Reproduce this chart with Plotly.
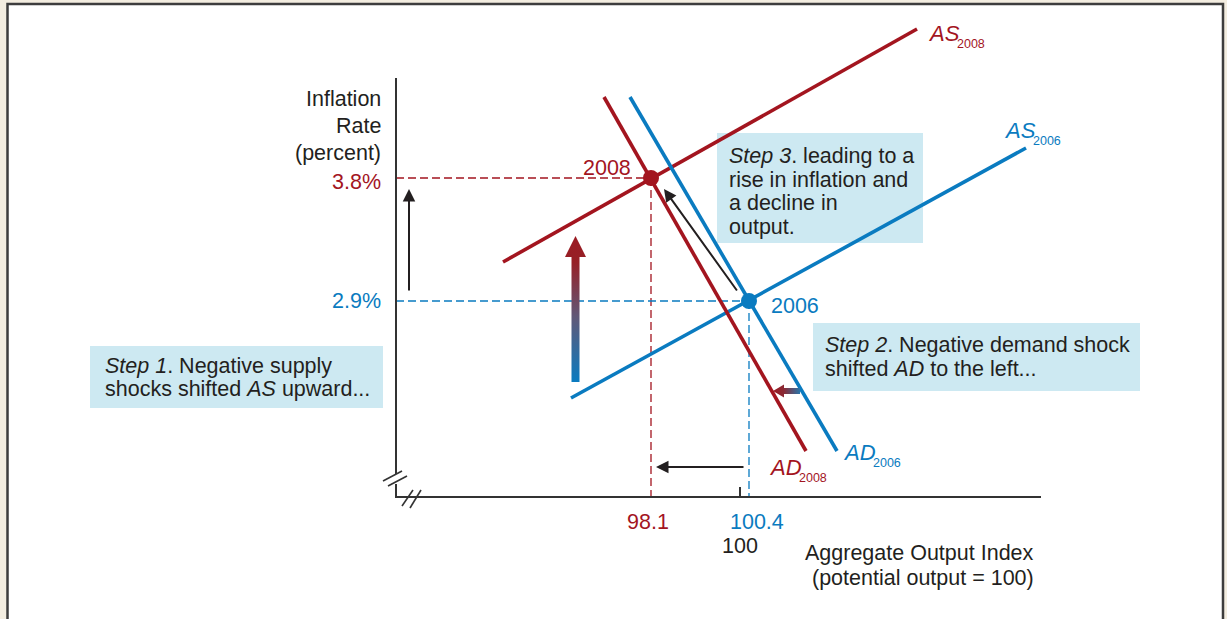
import plotly.graph_objects as go

# ---------------- data (diagram coordinates, y grows downward) ----------------
RED = "#a3151f"
BLUE = "#0a7bc0"
INK = "#231f20"
BOXC = "#cde9f2"
FONT = "Liberation Sans, Arial, sans-serif"

# curves: endpoints
as2008_x = [503, 917]
as2008_y = [262, 29]
as2006_x = [571, 1026]
as2006_y = [398, 148]
ad2008_x = [604, 806]
ad2008_y = [97, 451]
ad2006_x = [630, 837]
ad2006_y = [97, 451]

# equilibria
eq_names = ["2008", "2006"]
eq_x = [651, 749]
eq_y = [178, 301]
eq_inflation = ["3.8%", "2.9%"]
eq_output = ["98.1", "100.4"]
eq_colors = [RED, BLUE]

# axes
axis_x0 = 396
axis_y0 = 497
axis_top = 78
axis_right = 1041
potential_x = 740

fig = go.Figure()

# ---------------- frame ----------------
shapes = []
shapes.append(dict(type="rect", xref="x", yref="y", x0=7.5, x1=1223, y0=4, y1=650,
                   fillcolor="white", line=dict(color="#3d3d3d", width=2.5), layer="below"))

# text boxes
boxes = [(717, 923, 133, 243), (813, 1140, 323, 391), (90, 383, 346, 408)]
for bx0, bx1, by0, by1 in boxes:
    shapes.append(dict(type="rect", xref="x", yref="y", x0=bx0, x1=bx1, y0=by0, y1=by1,
                       fillcolor=BOXC, line=dict(width=0), layer="below"))

# axes lines
axc = dict(color="#333333", width=2)
shapes += [
    dict(type="line", xref="x", yref="y", x0=axis_x0, x1=axis_x0, y0=axis_top, y1=474, line=axc),
    dict(type="line", xref="x", yref="y", x0=axis_x0, x1=axis_x0, y0=484, y1=axis_y0, line=axc),
    dict(type="line", xref="x", yref="y", x0=axis_x0 - 1, x1=axis_right, y0=axis_y0, y1=axis_y0, line=axc),
    # break marks vertical axis
    dict(type="line", xref="x", yref="y", x0=383, x1=402, y0=481, y1=471, line=dict(color="#333", width=1.6)),
    dict(type="line", xref="x", yref="y", x0=388, x1=407, y0=486, y1=476, line=dict(color="#333", width=1.6)),
    # break marks horizontal axis
    dict(type="line", xref="x", yref="y", x0=402, x1=413, y0=506, y1=490, line=dict(color="#333", width=1.6)),
    dict(type="line", xref="x", yref="y", x0=410, x1=421, y0=508, y1=490, line=dict(color="#333", width=1.6)),
    # tick at potential output
    dict(type="line", xref="x", yref="y", x0=potential_x, x1=potential_x, y0=487, y1=axis_y0, line=axc),
]

# ---------------- dashed guides ----------------
for ex, ey, c in zip(eq_x, eq_y, eq_colors):
    fig.add_trace(go.Scatter(x=[axis_x0, ex], y=[ey, ey], mode="lines",
                             line=dict(color=c, width=1.3, dash="8px,4px"), hoverinfo="skip"))
    fig.add_trace(go.Scatter(x=[ex, ex], y=[ey, axis_y0], mode="lines",
                             line=dict(color=c, width=1.3, dash="8px,4px"), hoverinfo="skip"))

# ---------------- curves ----------------
for xs, ys, c in [(as2008_x, as2008_y, RED), (as2006_x, as2006_y, BLUE),
                  (ad2006_x, ad2006_y, BLUE), (ad2008_x, ad2008_y, RED)]:
    fig.add_trace(go.Scatter(x=xs, y=ys, mode="lines", line=dict(color=c, width=3.6),
                             hoverinfo="skip"))

# equilibrium dots
fig.add_trace(go.Scatter(x=eq_x, y=eq_y, mode="markers",
                         marker=dict(color=eq_colors, size=16, line=dict(width=0)),
                         hoverinfo="skip"))

# ---------------- gradient arrows ----------------
big_x = [575.5, 586, 579.5, 579.5, 571.5, 571.5, 565, 575.5]
big_y = [236, 257, 257, 382, 382, 257, 257, 236]
fig.add_trace(go.Scatter(x=big_x, y=big_y, mode="lines", fill="toself",
                         line=dict(width=0, color="rgba(0,0,0,0)"),
                         fillgradient=dict(type="vertical", start=236, stop=382,
                                           colorscale=[[0, "#9b1a22"], [0.18, "#962026"],
                                                       [0.55, "#615877"], [1, "#0a7bc0"]]),
                         hoverinfo="skip"))
small_x = [773, 784, 784, 800, 800, 784, 784, 773]
small_y = [391, 384.5, 388, 388, 394, 394, 397.5, 391]
fig.add_trace(go.Scatter(x=small_x, y=small_y, mode="lines", fill="toself",
                         line=dict(width=0, color="rgba(0,0,0,0)"),
                         fillgradient=dict(type="horizontal", start=773, stop=800,
                                           colorscale=[[0, "#9b1a22"], [0.4, "#8a2a35"],
                                                       [1, "#2a74a8"]]),
                         hoverinfo="skip"))

# ---------------- annotations ----------------
ann = []
FS = 21.5


def txt(x, y, t, anchor="left", color=INK, size=FS):
    ann.append(dict(x=x, y=y, xref="x", yref="y", text=t, showarrow=False,
                    xanchor=anchor, yanchor="middle",
                    font=dict(family=FONT, size=size, color=color)))


# y-axis title
txt(383, 99, "Inflation", "right")
txt(383, 126, "Rate", "right")
txt(383, 153, "(percent)", "right")
# inflation ticks
txt(383, 182, eq_inflation[0], "right", RED)
txt(383, 301, eq_inflation[1], "right", BLUE)
# output ticks
txt(648, 522, eq_output[0], "center", RED)
txt(757, 522, eq_output[1], "center", BLUE)
txt(740, 546, "100", "center")
txt(1036, 553, "Aggregate Output Index", "right")
txt(1036, 578, "(potential output = 100)", "right")
# point labels
txt(633, 168, eq_names[0], "right", RED)
txt(769, 306, eq_names[1], "left", BLUE)
# curve labels
txt(926, 33, "<i>AS</i>", "left", RED, 22)
txt(955, 44, "2008", "left", RED, 12.5)
txt(1002, 130, "<i>AS</i>", "left", BLUE, 22)
txt(1031, 141, "2006", "left", BLUE, 12.5)
txt(841, 452, "<i>AD</i>", "left", BLUE, 22)
txt(871, 463, "2006", "left", BLUE, 12.5)
txt(767, 467, "<i>AD</i>", "left", RED, 22)
txt(797, 478, "2008", "left", RED, 12.5)
# step boxes
for i, line in enumerate(["<i>Step 3</i>. leading to a", "rise in inflation and",
                          "a decline in", "output."]):
    txt(727, 156 + i * 23.7, line)
for i, line in enumerate(["<i>Step 2</i>. Negative demand shock",
                          "shifted <i>AD</i> to the left..."]):
    txt(823, 345 + i * 24, line)
for i, line in enumerate(["<i>Step 1</i>. Negative supply",
                          "shocks shifted <i>AS</i> upward..."]):
    txt(103, 366 + i * 23, line)

# black arrows
for (tx, ty, hx, hy) in [(409, 292, 409, 189), (738, 292, 664, 189), (745, 467, 656, 467)]:
    ann.append(dict(x=hx, y=hy, ax=tx, ay=ty, xref="x", yref="y", axref="x", ayref="y",
                    text="", showarrow=True, arrowhead=2, arrowsize=1.25, arrowwidth=2,
                    arrowcolor=INK, standoff=0))

fig.update_layout(
    width=1227, height=619, margin=dict(l=0, r=0, t=0, b=0),
    paper_bgcolor="#f3ede0", plot_bgcolor="rgba(0,0,0,0)",
    xaxis=dict(range=[0, 1227], visible=False, fixedrange=True),
    yaxis=dict(range=[619, 0], visible=False, fixedrange=True),
    showlegend=False, shapes=shapes, annotations=ann,
)

fig.write_html("out.html", config={"displayModeBar": False},
               post_script="document.body.style.margin='0';document.body.style.overflow='hidden';")
